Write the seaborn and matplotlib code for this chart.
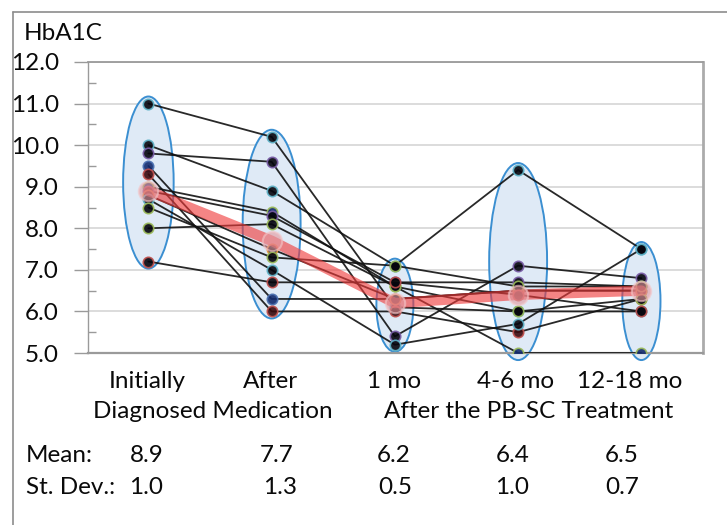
import numpy as np
import pandas as pd
import matplotlib
matplotlib.use("Agg")
import matplotlib.pyplot as plt
from matplotlib.patches import Ellipse
from matplotlib.lines import Line2D
import seaborn as sns

# ---- data -------------------------------------------------------------
stages = ["Initially", "After", "1 mo", "4-6 mo", "12-18 mo"]
group_labels = ["Diagnosed Medication", "After the PB-SC Treatment"]

subj_A = [11.0, 10.2, 6.1, 6.0, 6.0]
subj_B = [10.0, 8.9, 7.1, 9.4, 7.5]
subj_C = [9.8, 9.6, 5.4, 7.1, 6.8]
subj_D = [9.5, 6.3, 6.3, 6.5, 6.5]
subj_E = [9.3, 6.0, 6.0, 5.5, 6.3]
subj_F = [9.0, 8.4, 6.6, 5.0, 5.0]
subj_G = [8.9, 8.3, 6.7, 6.7, 6.6]
subj_H = [8.8, 7.5, 6.3, 6.5, 6.5]
subj_I = [8.7, 7.0, 5.2, 5.7, 7.5]
subj_J = [8.5, 7.3, 7.1, 6.6, 6.6]
subj_K = [8.0, 8.1, 6.6, 6.0, 6.3]
subj_L = [7.2, 6.7, 6.7, 6.4, 6.0]

mean_vals = [8.9, 7.7, 6.2, 6.4, 6.5]
sd_vals = [1.0, 1.3, 0.5, 1.0, 0.7]

subjects = [subj_A, subj_B, subj_C, subj_D, subj_E, subj_F,
            subj_G, subj_H, subj_I, subj_J, subj_K, subj_L]

# ---- styles -----------------------------------------------------------
CYAN, PURPLE, BLUE = "#5fb3c8", "#7a5ea8", "#4a6fb0"
RED, GREEN, ORANGE = "#c0504d", "#9bbb59", "#e8953a"
INK, NAVY, DRED = "#05050d", "#122a6e", "#3a0a0e"
marker_styles = [(INK, CYAN), (INK, CYAN), (INK, PURPLE), (NAVY, BLUE),
                 (DRED, RED), (NAVY, GREEN), (INK, PURPLE), (INK, ORANGE),
                 (INK, CYAN), (INK, GREEN), (INK, GREEN), (INK, RED)]
ellipse_widths = [0.41, 0.47, 0.30, 0.47, 0.31]
ellipse_pad = 0.17

long = pd.DataFrame(
    [(s, i, v) for s, vals in enumerate(subjects) for i, v in enumerate(vals)],
    columns=["subject", "stage", "hba1c"],
)

sns.set_theme(style="white")
plt.rcParams["font.family"] = ["Lato", "DejaVu Sans"]
FS = 17.5
TXT = "#0a0a0a"

fig = plt.figure(figsize=(7.27, 5.25), dpi=100)
ax = fig.add_axes([88 / 727, 1 - 353 / 525, (703 - 88) / 727, (353 - 62) / 525])

# light blue ellipses around each stage
for i in range(len(stages)):
    col = long.loc[long.stage == i, "hba1c"]
    lo, hi = col.min() - ellipse_pad, col.max() + ellipse_pad
    ax.add_patch(Ellipse((i, (lo + hi) / 2), ellipse_widths[i], hi - lo,
                         facecolor="#dfeaf6", edgecolor="#3b8fd1",
                         linewidth=1.4, zorder=2, clip_on=False))

# individual trajectories
for s, (fc, ec) in enumerate(marker_styles):
    d = long[long.subject == s]
    sns.lineplot(data=d, x="stage", y="hba1c", ax=ax, color="#111111",
                 linewidth=1.3, alpha=0.9, marker="o", markersize=7.5,
                 markerfacecolor=fc, markeredgecolor=ec, markeredgewidth=1.2,
                 zorder=3, legend=False)

# mean line
sns.lineplot(x=list(range(len(stages))), y=mean_vals, ax=ax, color="#f03a3a",
             alpha=0.62, linewidth=7.5, marker="o", markersize=14,
             markerfacecolor="#e39aa0", markeredgecolor="#f3c6c8",
             markeredgewidth=1.5, zorder=4, legend=False)

# axes
ax.set_xlim(-0.49, 4.5)
ax.set_ylim(5.0, 12.0)
ax.set_xticks([])
ax.set_xlabel("")
ax.set_ylabel("")
ax.set_yticks(np.arange(5, 12.01, 1.0))
ax.set_yticks(np.arange(5.5, 12, 1.0), minor=True)
ax.set_yticklabels([f"{v:.1f}" for v in np.arange(5, 12.01, 1.0)], fontsize=FS,
                   color=TXT)
ax.tick_params(axis="y", which="major", length=10, width=1.0, color="#9a9a9a",
               direction="out", pad=11, left=True)
ax.tick_params(axis="y", which="minor", length=6, width=1.0, color="#9a9a9a",
               direction="in", left=True)
ax.grid(axis="y", which="major", color="#d9d9d9", linewidth=1.3)
ax.set_axisbelow(True)
for side, (c, w) in {"left": ("#9a9a9a", 1.0), "right": ("#ababab", 2.0),
                     "top": ("#9a9a9a", 1.3), "bottom": ("#9a9a9a", 1.6)}.items():
    ax.spines[side].set_visible(True)
    ax.spines[side].set_color(c)
    ax.spines[side].set_linewidth(w)

# outer frame
fig.add_artist(Line2D([13 / 727, 13 / 727], [0, 1 - 12 / 525],
                      transform=fig.transFigure, color="#8c8c8c", linewidth=1.2))
fig.add_artist(Line2D([13 / 727, 1], [1 - 12 / 525, 1 - 12 / 525],
                      transform=fig.transFigure, color="#8c8c8c", linewidth=1.2))

fig.text(24 / 727, 1 - 34 / 525, "HbA1C", fontsize=FS, ha="left", va="center",
         color=TXT)

# stage labels under the plot
stage_px = [147, 270, 394, 516, 630]
for px, lab in zip(stage_px, stages):
    fig.text(px / 727, 1 - 381 / 525, lab, fontsize=FS, ha="center",
             va="center", color=TXT)
for px, lab in zip([213, 529], group_labels):
    fig.text(px / 727, 1 - 411 / 525, lab, fontsize=FS, ha="center",
             va="center", color=TXT)

# summary statistics
fig.text(26 / 727, 1 - 455 / 525, "Mean:", fontsize=FS, ha="left", va="center",
         color=TXT)
fig.text(26 / 727, 1 - 488 / 525, "St. Dev.:", fontsize=FS, ha="left",
         va="center", color=TXT)
for px, v in zip([147, 277, 394, 513, 622], mean_vals):
    fig.text(px / 727, 1 - 455 / 525, f"{v:.1f}", fontsize=FS, ha="center",
             va="center", color=TXT)
for px, v in zip([146, 280, 395, 512, 622], sd_vals):
    fig.text(px / 727, 1 - 488 / 525, f"{v:.1f}", fontsize=FS, ha="center",
             va="center", color=TXT)

fig.savefig("out.png", dpi=100, facecolor="white")
